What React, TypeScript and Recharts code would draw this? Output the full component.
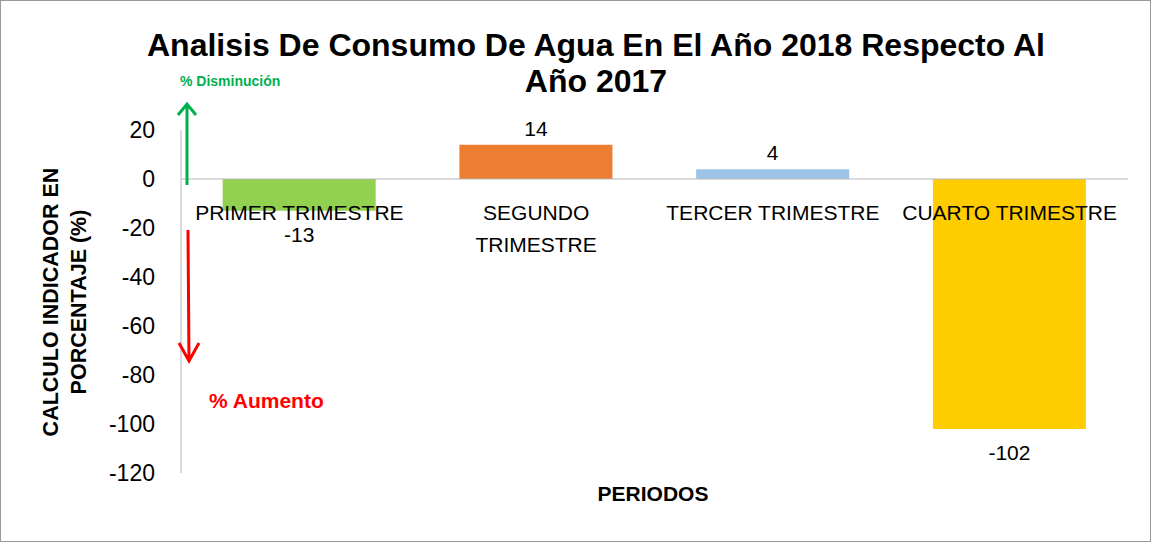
import React from 'react';
import { BarChart, Bar, XAxis, YAxis, Cell, LabelList, ReferenceLine } from 'recharts';

const CATEGORIES = ['PRIMER TRIMESTRE', 'SEGUNDO TRIMESTRE', 'TERCER TRIMESTRE', 'CUARTO TRIMESTRE'];
const TICK_LINES = [['PRIMER TRIMESTRE'], ['SEGUNDO', 'TRIMESTRE'], ['TERCER TRIMESTRE'], ['CUARTO TRIMESTRE']];
const VALUES = [-13, 14, 4, -102];
const COLORS = ['#92D050', '#ED7D31', '#9DC3E6', '#FFCC00'];
const Y_TICKS = [20, 0, -20, -40, -60, -80, -100, -120];

const W = 1152;
const H = 544;
const TOP = 130;
const BOTTOM = 71;
const FONT = '"Liberation Sans", Arial, sans-serif';

const data = CATEGORIES.map((name, i) => ({ name, value: VALUES[i] }));

// pixel of value 0 inside the plot area
const PLOT_H = H - TOP - BOTTOM;
const ZERO_Y = TOP + (20 / 140) * PLOT_H;

const CategoryTick = ({ x, payload, index }: any) => {
  const lines = TICK_LINES[index] || [payload.value];
  return (
    <g>
      {lines.map((l: string, i: number) => (
        <text key={i} x={x} y={ZERO_Y + 41 + i * 32} textAnchor="middle" fontSize={21} fontFamily={FONT} fill="#000">
          {l}
        </text>
      ))}
    </g>
  );
};

const ValueLabel = ({ x, y, width, height, value }: any) => {
  const top = Math.min(y, y + height);
  const bottom = Math.max(y, y + height);
  const cx = x + width / 2;
  const ty = value >= 0 ? top - 9 : bottom + 31;
  return (
    <text x={cx} y={ty} textAnchor="middle" fontSize={21} fontFamily={FONT} fill="#000">
      {value}
    </text>
  );
};

export default function App() {
  return (
    <div style={{ position: 'absolute', left: 0, top: 0, width: W, height: H, background: '#fff' }}>
      <BarChart width={W} height={H} data={data} margin={{ top: TOP, right: 24, bottom: 0, left: 0 }} barCategoryGap="17.6%">
        <XAxis dataKey="name" axisLine={false} tickLine={false} height={BOTTOM} tick={<CategoryTick />} interval={0} />
        <YAxis
          width={181}
          domain={[-120, 20]}
          ticks={Y_TICKS}
          tickLine={false}
          tickSize={0}
          tickMargin={26}
          axisLine={{ stroke: '#B7B7B7' }}
          tick={{ fontSize: 23, fontFamily: FONT, fill: '#000' }}
          allowDataOverflow
        />
        <ReferenceLine y={0} stroke="#B7B7B7" />
        <Bar dataKey="value" isAnimationActive={false}>
          {data.map((d, i) => (
            <Cell key={d.name} fill={COLORS[i]} />
          ))}
          <LabelList dataKey="value" content={<ValueLabel />} />
        </Bar>
      </BarChart>
      <svg width={W} height={H} style={{ position: 'absolute', left: 0, top: 0, pointerEvents: 'none' }}>
        <rect x={0.5} y={0.5} width={W - 2} height={H - 3} fill="none" stroke="#9A9A9A" />
        <text x={596} y={56} textAnchor="middle" fontSize={32} fontWeight="bold" fontFamily={FONT} fill="#000">
          Analisis De Consumo De Agua En El Año 2018 Respecto Al
        </text>
        <text x={596} y={92} textAnchor="middle" fontSize={32} fontWeight="bold" fontFamily={FONT} fill="#000">
          Año 2017
        </text>
        <g transform="translate(58,302) rotate(-90)">
          <text x={0} y={0} textAnchor="middle" fontSize={21.5} fontWeight="bold" fontFamily={FONT} fill="#000">
            CALCULO INDICADOR EN
          </text>
          <text x={0} y={28} textAnchor="middle" fontSize={21.5} fontWeight="bold" fontFamily={FONT} fill="#000">
            PORCENTAJE (%)
          </text>
        </g>
        <text x={653} y={501} textAnchor="middle" fontSize={21} fontWeight="bold" fontFamily={FONT} fill="#000">
          PERIODOS
        </text>
        <text x={180} y={86} fontSize={14} fontWeight="bold" fontFamily={FONT} fill="#00B050">
          % Disminución
        </text>
        <path d="M187 185 L187 104 M178 115 L187 104 L196 115" stroke="#00B050" strokeWidth={3} fill="none" />
        <path d="M188 230 L189 361 M179 343 L189 361 L199 343" stroke="#FF0000" strokeWidth={3} fill="none" />
        <text x={209} y={408} fontSize={21} fontWeight="bold" fontFamily={FONT} fill="#FF0000">
          % Aumento
        </text>
      </svg>
    </div>
  );
}
